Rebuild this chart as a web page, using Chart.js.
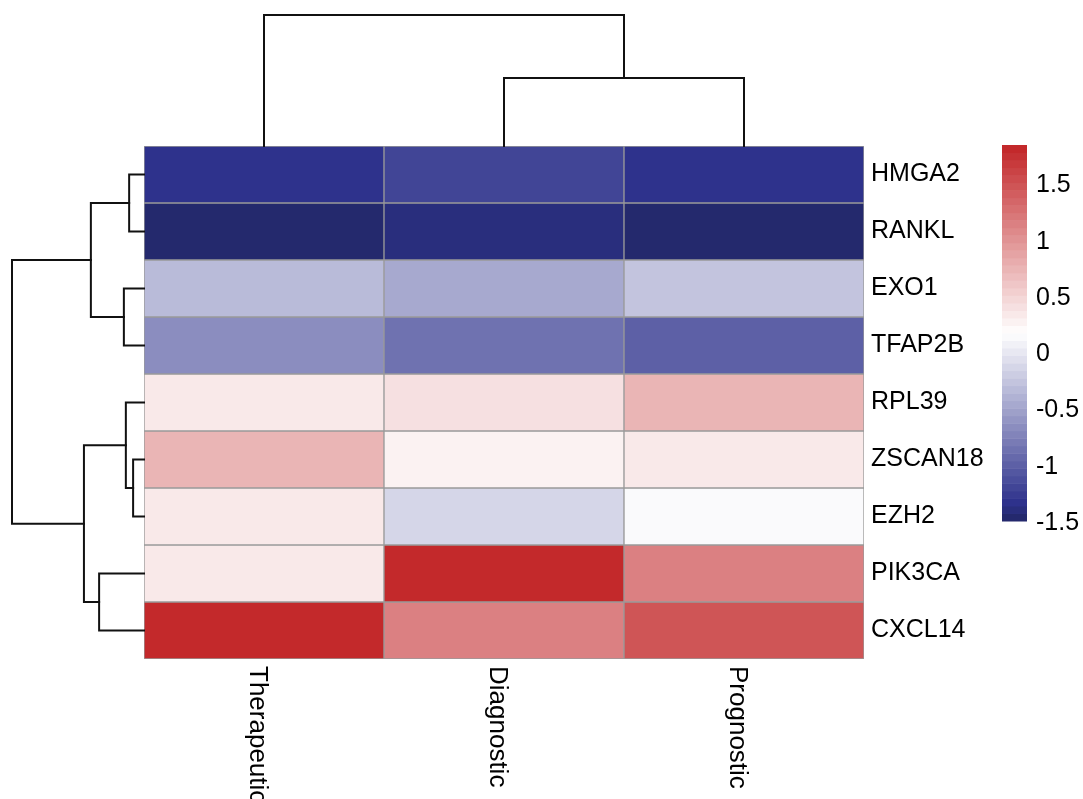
<!DOCTYPE html>
<html>
<head>
<meta charset="utf-8">
<title>Heatmap</title>
<script src="https://cdn.jsdelivr.net/npm/chart.js@4.4.1/dist/chart.umd.min.js"></script>
<style>
  html,body{margin:0;padding:0;background:#fff;}
  #wrap{width:1083px;height:799px;}
</style>
</head>
<body>
<div id="wrap"><canvas id="heat" width="1083" height="799"></canvas></div>
<script>
// order is the one after clustering (top to bottom / left to right)
var colNames = ['Therapeutic', 'Diagnostic', 'Prognostic'];
var rowNames = ['HMGA2', 'RANKL', 'EXO1', 'TFAP2B', 'RPL39', 'ZSCAN18', 'EZH2', 'PIK3CA', 'CXCL14'];

var therapeutic = [-1.31, -1.49, -0.33, -0.66, 0.34, 0.73, 0.34, 0.34, 1.85];
var diagnostic  = [-1.16, -1.39, -0.43, -0.87, 0.43, 0.29, -0.09, 1.85, 1.16];
var prognostic  = [-1.31, -1.49, -0.28, -0.97, 0.73, 0.35, 0.17, 1.16, 1.47];

// hclust style merges: negative = leaf (1-based), positive = earlier merge step
var rowMerge   = [[-6,-7], [-1,-2], [-5,1], [-3,-4], [-8,-9], [2,4], [3,5], [6,7]];
var rowHeights = [0.33, 0.45, 0.55, 0.61, 1.36, 1.61, 1.82, 4.0];
var colMerge   = [[-2,-3], [-1,1]];
var colHeights = [1.35, 2.6];

var legendTicks = [-1.5, -1, -0.5, 0, 0.5, 1, 1.5];

(function(){
  var FONT = '"Liberation Sans", Arial, Helvetica, sans-serif';
  var nColors = 50;
  // palette stops (position 0..1, rgb)
  var stops = [
    [0,    [36, 41, 109]],
    [0.04, [46, 50, 140]],
    [0.5,  [255, 255, 255]],
    [1,    [195, 41, 43]]
  ];
  var columns = [therapeutic, diagnostic, prognostic];

  var all = [].concat(therapeutic, diagnostic, prognostic);
  var zMin = Math.min.apply(null, all);
  var zMax = Math.max.apply(null, all);

  function ramp(p){
    for(var i=1;i<stops.length;i++){
      if(p <= stops[i][0]){
        var a = stops[i-1], b = stops[i];
        var t = (p - a[0])/(b[0] - a[0]);
        return [0,1,2].map(function(k){ return Math.round(a[1][k] + (b[1][k]-a[1][k])*t); });
      }
    }
    return stops[stops.length-1][1];
  }
  var palette = [];
  for(var k=0;k<nColors;k++){
    palette.push('rgb(' + ramp(k/(nColors-1)).join(',') + ')');
  }
  function colorFor(v){
    var idx = Math.floor((v - zMin)/(zMax - zMin)*nColors);
    if(idx < 0) idx = 0;
    if(idx > nColors-1) idx = nColors-1;
    return palette[idx];
  }

  function buildTree(merge, heights, leafPos){
    var nodes = [];
    function get(ref){ return ref < 0 ? {pos: leafPos(-ref-1), h: 0} : nodes[ref-1]; }
    merge.forEach(function(m, i){
      var a = get(m[0]), b = get(m[1]);
      nodes.push({pos: (a.pos+b.pos)/2, h: heights[i], a: a, b: b});
    });
    return nodes;
  }

  var dendroPlugin = {
    id: 'dendro',
    afterDatasetsDraw: function(chart){
      var ctx = chart.ctx, area = chart.chartArea;
      var xs = chart.scales.x, rs = chart.scales.rows;
      ctx.save();
      ctx.strokeStyle = '#111';
      ctx.lineWidth = 2;
      ctx.lineCap = 'square';

      // column tree, above the heatmap
      var cScale = (area.top - 15)/Math.max.apply(null, colHeights);
      buildTree(colMerge, colHeights, function(i){ return xs.getPixelForValue(i); }).forEach(function(n){
        var y = area.top - n.h*cScale;
        ctx.beginPath();
        ctx.moveTo(n.a.pos, area.top - n.a.h*cScale);
        ctx.lineTo(n.a.pos, y);
        ctx.lineTo(n.b.pos, y);
        ctx.lineTo(n.b.pos, area.top - n.b.h*cScale);
        ctx.stroke();
      });

      // row tree, left of the heatmap
      var rScale = (area.left - 12)/Math.max.apply(null, rowHeights);
      buildTree(rowMerge, rowHeights, function(i){ return rs.getPixelForValue(i); }).forEach(function(n){
        var x = area.left - n.h*rScale;
        ctx.beginPath();
        ctx.moveTo(area.left - n.a.h*rScale, n.a.pos);
        ctx.lineTo(x, n.a.pos);
        ctx.lineTo(x, n.b.pos);
        ctx.lineTo(area.left - n.b.h*rScale, n.b.pos);
        ctx.stroke();
      });
      ctx.restore();
    }
  };

  // column names under the heatmap, turned to read downwards
  var colLabelPlugin = {
    id: 'colLabels',
    afterDraw: function(chart){
      var ctx = chart.ctx, xs = chart.scales.x, area = chart.chartArea;
      ctx.save();
      ctx.fillStyle = '#000';
      ctx.font = '26px ' + FONT;
      ctx.textAlign = 'left';
      ctx.textBaseline = 'alphabetic';
      colNames.forEach(function(name, i){
        ctx.save();
        ctx.translate(xs.getPixelForValue(i), area.bottom + 7);
        ctx.rotate(Math.PI/2);
        ctx.fillText(name, 0, 14);
        ctx.restore();
      });
      ctx.restore();
    }
  };

  // colour key on the right
  var legendPlugin = {
    id: 'colorKey',
    afterDraw: function(chart){
      var ctx = chart.ctx;
      var bx = 1002, bw = 25, top = 145, bottom = 521;
      function py(v){ return bottom - (v - zMin)/(zMax - zMin)*(bottom - top); }
      ctx.save();
      var step = (zMax - zMin)/nColors;
      for(var k=0;k<nColors;k++){
        var y0 = py(zMin + k*step), y1 = py(zMin + (k+1)*step);
        ctx.fillStyle = palette[k];
        ctx.fillRect(bx, y1, bw, y0 - y1 + 0.5);
      }
      ctx.fillStyle = '#000';
      ctx.font = '25px ' + FONT;
      ctx.textAlign = 'left';
      ctx.textBaseline = 'middle';
      legendTicks.forEach(function(t){
        ctx.fillText(String(t), 1036, py(t) + 1);
      });
      ctx.restore();
    }
  };

  var datasets = rowNames.map(function(name, r){
    return {
      label: name,
      data: colNames.map(function(){ return 1; }),
      backgroundColor: columns.map(function(col){ return colorFor(col[r]); }),
      borderColor: '#9a9a9a',
      borderWidth: 1,
      borderSkipped: false,
      barPercentage: 1,
      categoryPercentage: 1,
      xAxisID: 'x',
      yAxisID: 'y'
    };
  });

  new Chart(document.getElementById('heat').getContext('2d'), {
    type: 'bar',
    data: { labels: colNames, datasets: datasets },
    options: {
      responsive: false,
      animation: false,
      events: [],
      layout: { padding: { left: 144, top: 146, right: 0, bottom: 140 } },
      scales: {
        x: { type: 'category', stacked: true, display: false },
        y: { type: 'linear', stacked: true, min: 0, max: rowNames.length, reverse: true, display: false },
        rows: {
          type: 'category',
          labels: rowNames,
          position: 'right',
          offset: true,
          grid: { display: false, drawTicks: false },
          border: { display: false },
          ticks: { color: '#000', autoSkip: false, padding: 7, font: { family: FONT, size: 25 } },
          afterFit: function(scale){ scale.width = 219; }
        }
      },
      plugins: {
        legend: { display: false },
        tooltip: { enabled: false }
      }
    },
    plugins: [dendroPlugin, colLabelPlugin, legendPlugin]
  });
})();
</script>
</body>
</html>
